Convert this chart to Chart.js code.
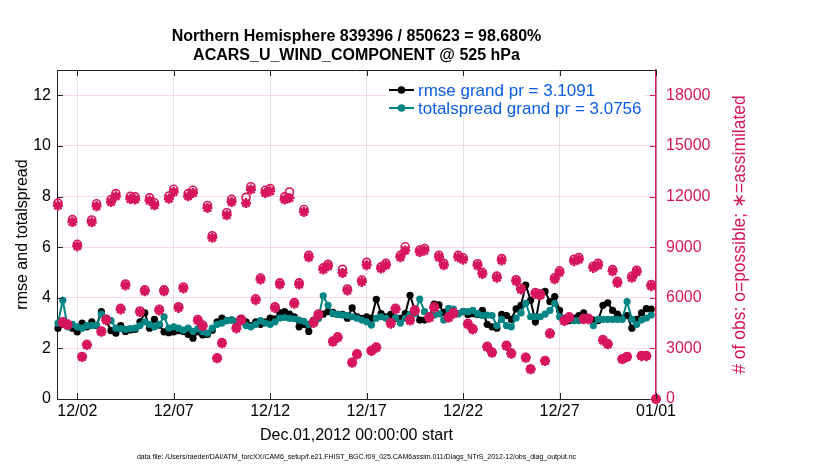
<!DOCTYPE html>
<html>
<head>
<meta charset="utf-8">
<script src="https://cdn.jsdelivr.net/npm/chart.js@4.4.1/dist/chart.umd.min.js"></script>
<style>
html,body{margin:0;padding:0;background:#fff;}
#wrap{width:830px;height:470px;position:relative;}
</style>
</head>
<body>
<div id="wrap"><canvas id="c" width="830" height="470"></canvas></div>
<script>
// ---------- data ----------
const titleLines = ['Northern Hemisphere 839396 / 850623 = 98.680%', 'ACARS_U_WIND_COMPONENT @ 525 hPa'];
const xTitle = 'Dec.01,2012 00:00:00 start';
const yLeftTitle = 'rmse and totalspread';
const yRightTitle = '# of obs: o=possible; \u2217=assimilated';
const footer = 'data file: /Users/raeder/DAI/ATM_forcXX/CAM6_setup/f.e21.FHIST_BGC.f09_025.CAM6assim.011/Diags_NTrS_2012-12/obs_diag_output.nc';
const legendLabels = ['rmse grand pr = 3.1091', 'totalspread grand pr = 3.0756'];

// x ticks: day of December (32 = Jan 1)
const xTickDays = [2, 7, 12, 17, 22, 27, 32];
const xTickLabels = ['12/02', '12/07', '12/12', '12/17', '12/22', '12/27', '01/01'];
const leftTicks = [0, 2, 4, 6, 8, 10, 12];
const rightTicks = [0, 3000, 6000, 9000, 12000, 15000, 18000];

// 6-hourly bins starting Dec 1 00Z
const firstDay = 1.0;
const stepDays = 0.25;

const rmse = [
 2.80,2.95,2.90,2.80, 2.65,3.00,2.85,3.05, 2.90,3.45,3.10,2.70, 2.60,2.90,2.67,2.73,
 2.75,3.05,3.40,2.80, 3.15,2.92,2.65,2.62, 2.65,2.70,2.67,2.55, 2.40,2.65,2.53,2.55,
 2.72,3.05,3.20,3.10, 3.12,3.05,3.19,3.05, 2.90,3.05,2.95,3.05, 3.20,3.17,3.40,3.45,
 3.35,3.25,2.85,2.95, 2.67,3.12,3.20,3.35, 3.45,3.42,3.34,3.34, 3.19,3.60,3.25,3.19,
 3.25,3.19,3.94,3.37, 3.25,3.34,3.19,3.19, 3.37,4.10,3.51,3.12, 3.12,3.25,3.75,3.72,
 3.42,3.32,3.45,3.37, 3.45,3.34,3.37,3.34, 3.50,2.95,2.85,2.80, 3.34,3.30,3.15,3.56,
 3.70,4.50,3.90,3.05, 4.10,4.25,3.85,4.05, 3.50,3.15,3.10,3.20, 3.30,3.40,3.20,3.12,
 3.10,3.70,3.80,3.50, 3.35,3.20,3.30,2.80, 3.15,3.40,3.57,3.55
];
const totalspread = [
 3.00,3.90,2.85,2.95, 2.85,2.80,2.90,2.90, 2.92,3.35,3.20,3.10, 2.80,2.78,2.75,2.78,
 2.80,2.90,3.05,2.95, 2.85,2.95,3.25,2.80, 2.85,2.80,2.72,2.80, 2.67,2.78,2.66,2.60,
 2.80,2.95,3.00,3.10, 3.13,3.07,3.05,2.90, 2.85,2.95,3.10,3.00, 2.95,3.05,3.20,3.22,
 3.19,3.17,3.12,3.07, 2.95,3.07,3.19,4.08, 3.70,3.37,3.34,3.32, 3.30,3.25,3.19,3.12,
 3.05,2.92,3.19,3.25, 3.19,3.07,3.22,3.00, 3.19,3.34,3.37,3.95, 3.45,3.25,3.32,3.37,
 3.12,3.58,3.55,3.37, 3.45,3.45,3.50,3.37, 3.30,3.32,3.30,2.90, 3.15,2.90,2.85,3.20,
 3.40,3.78,3.25,3.25, 3.25,3.35,3.50,3.78, 3.25,3.20,3.15,3.10, 3.10,3.15,3.15,2.90,
 3.15,3.15,3.15,3.15, 3.15,3.15,3.85,3.15, 2.95,3.12,3.20,3.32
];
const obsAssimilated = [
 11460,4510,4380,10490, 9050,2485,3195,10470, 11420,3980,4670,11670, 12010,5300,6730,11850,
 11820,5150,6390,11760, 11480,5250,6390,11870, 12270,5400,6550,12010, 12210,4650,4320,11320,
 9550,2410,3300,10890, 11670,4180,4670,11610, 12410,5860,7080,12210, 12310,5400,6790,11820,
 11910,5640,6790,11080, 8400,4510,4970,7670, 7870,3390,3630,7470, 6430,2150,2640,6940,
 7930,2840,3040,7730, 7930,4460,5310,8400, 8800,4650,5210,8710, 8800,4810,5400,8400,
 7930,4810,5050,8400, 8260,4420,4120,7910, 7410,3080,2740,7180, 8210,3140,2680,6980,
 6490,2440,1760,6230, 6150,2250,3860,7100, 7500,4620,4810,8170, 8270,4720,4720,7770,
 7930,3470,3240,7570, 6880,2350,2490,7180, 7530,2540,2540,6690, 0
];
const obsPossible = [
 11610,4570,4440,10630, 9170,2520,3240,10610, 11570,4030,4730,11820, 12170,5370,6820,12010,
 11980,5220,6470,11920, 11630,5320,6470,12030, 12430,5470,6640,12170, 12370,4710,4380,11470,
 9680,2440,3340,11040, 11830,4240,4730,11950, 12580,5940,7170,12370, 12470,5470,6880,11980,
 12270,5710,6880,11230, 8510,4570,5040,7770, 7980,3430,3680,7680, 6520,2180,2680,7050,
 8100,2880,3080,7830, 8040,4520,5380,8510, 9020,4710,5280,8830, 8920,4870,5470,8510,
 8040,4870,5120,8510, 8370,4480,4170,8020, 7510,3120,2780,7280, 8320,3180,2720,7070,
 6580,2470,1780,6310, 6230,2280,3910,7190, 7600,4680,4870,8280, 8380,4780,4780,7870,
 8040,3520,3280,7670, 6970,2380,2520,7280, 7630,2570,2570,6780, 0
];

// ---------- styling ----------
const FONT = '"Liberation Sans", Arial, Helvetica, sans-serif';
const MAGENTA = '#d6155c';
const TEAL = '#008585';
const LEGEND_BLUE = '#0a5ce6';

const timeOf = i => firstDay + i * stepDays;
const toXY = arr => arr.map((v, i) => ({x: timeOf(i), y: v}));

const deco = {
  id: 'deco',
  afterDraw(chart) {
    const ctx = chart.ctx;
    const a = chart.chartArea;
    const sx = chart.scales.x, sy = chart.scales.y, sy2 = chart.scales.y2;
    ctx.save();
    // top box line
    ctx.strokeStyle = '#222'; ctx.lineWidth = 1;
    ctx.beginPath(); ctx.moveTo(a.left, a.top + 0.5); ctx.lineTo(a.right, a.top + 0.5); ctx.stroke();
    // inward ticks
    ctx.beginPath();
    sx.ticks.forEach(t => { const p = Math.round(sx.getPixelForValue(t.value)) + 0.5; ctx.moveTo(p, a.bottom); ctx.lineTo(p, a.bottom - 6); ctx.moveTo(p, a.top); ctx.lineTo(p, a.top + 6); });
    sy.ticks.forEach(t => { const p = Math.round(sy.getPixelForValue(t.value)) + 0.5; ctx.moveTo(a.left, p); ctx.lineTo(a.left + 6, p); });
    ctx.stroke();
    ctx.strokeStyle = MAGENTA;
    ctx.beginPath();
    sy2.ticks.forEach(t => { const p = Math.round(sy2.getPixelForValue(t.value)) + 0.5; ctx.moveTo(a.right, p); ctx.lineTo(a.right - 6, p); });
    ctx.stroke();

    // title
    const cx = (a.left + a.right) / 2;
    ctx.fillStyle = '#000';
    ctx.textAlign = 'center'; ctx.textBaseline = 'middle';
    ctx.font = 'bold 16px ' + FONT;
    ctx.fillText(titleLines[0], cx, 37);
    ctx.fillText(titleLines[1], cx, 56);
    // x title
    ctx.font = '16px ' + FONT;
    ctx.fillText(xTitle, cx, 436);
    // footer
    ctx.font = '7px ' + FONT;
    ctx.fillText(footer, cx, 457);
    // left y title
    const cy = (a.top + a.bottom) / 2;
    ctx.font = '16px ' + FONT;
    ctx.save(); ctx.translate(23, cy); ctx.rotate(-Math.PI / 2); ctx.fillText(yLeftTitle, 0, 0); ctx.restore();
    // right y title
    ctx.fillStyle = MAGENTA;
    ctx.font = '17.5px ' + FONT;
    ctx.save(); ctx.translate(740, cy); ctx.rotate(-Math.PI / 2); ctx.fillText(yRightTitle, 0, 0); ctx.restore();

    // legend
    ctx.fillStyle = '#fff';
    ctx.fillRect(386, 79, 258, 38);
    const rows = [{c: '#000', y: 90}, {c: TEAL, y: 108}];
    rows.forEach((r, i) => {
      ctx.strokeStyle = r.c; ctx.lineWidth = 2;
      ctx.beginPath(); ctx.moveTo(389, r.y); ctx.lineTo(414, r.y); ctx.stroke();
      ctx.fillStyle = r.c;
      ctx.beginPath(); ctx.arc(401.5, r.y, 3.8, 0, Math.PI * 2); ctx.fill();
      ctx.fillStyle = LEGEND_BLUE;
      ctx.font = '17px ' + FONT;
      ctx.textAlign = 'left';
      ctx.fillText(legendLabels[i], 418, r.y + 1);
    });
    ctx.restore();
  }
};

const chart = new Chart(document.getElementById('c'), {
  type: 'line',
  data: {
    datasets: [
      {label: 'obs assimilated', data: toXY(obsAssimilated), yAxisID: 'y2', showLine: false,
       pointStyle: 'star', pointRadius: 5, pointBorderWidth: 2.6, borderColor: MAGENTA, backgroundColor: MAGENTA,
       order: 0, clip: false},
      {label: 'obs possible', data: toXY(obsPossible), yAxisID: 'y2', showLine: false,
       pointStyle: 'circle', pointRadius: 4, pointBorderWidth: 1.6, borderColor: MAGENTA, backgroundColor: 'rgba(0,0,0,0)',
       order: 1, clip: false},
      {label: legendLabels[1], data: toXY(totalspread), yAxisID: 'y', borderColor: TEAL, backgroundColor: TEAL,
       borderWidth: 2, pointRadius: 3.6, pointBorderWidth: 0, pointBackgroundColor: TEAL, tension: 0, order: 2, clip: false},
      {label: legendLabels[0], data: toXY(rmse), yAxisID: 'y', borderColor: '#000', backgroundColor: '#000',
       borderWidth: 2, pointRadius: 3.6, pointBorderWidth: 0, pointBackgroundColor: '#000', tension: 0, order: 3, clip: false}
    ]
  },
  options: {
    responsive: false,
    animation: false,
    devicePixelRatio: 1,
    layout: {padding: {top: 70, left: 0, right: 0, bottom: 0}},
    plugins: {legend: {display: false}, tooltip: {enabled: false}, title: {display: false}},
    scales: {
      x: {
        type: 'linear', min: 0.95, max: 32,
        afterBuildTicks: s => { s.ticks = xTickDays.map(v => ({value: v})); },
        afterFit: s => { s.height = 71; },
        ticks: {
          callback: (v) => { const i = xTickDays.indexOf(v); return i >= 0 ? xTickLabels[i] : ''; },
          font: {family: FONT, size: 16}, color: '#000', padding: 3, maxRotation: 0, autoSkip: false
        },
        grid: {color: 'rgba(0,0,0,0.12)', drawTicks: false, lineWidth: 1},
        border: {display: true, color: '#222', width: 1}
      },
      y: {
        type: 'linear', position: 'left', min: 0, max: 13,
        afterBuildTicks: s => { s.ticks = leftTicks.map(v => ({value: v})); },
        afterFit: s => { s.width = 57; },
        ticks: {font: {family: FONT, size: 16}, color: '#000', padding: 6},
        grid: {display: false, drawTicks: false},
        border: {display: true, color: '#222', width: 1}
      },
      y2: {
        type: 'linear', position: 'right', min: 0, max: 19500,
        afterBuildTicks: s => { s.ticks = rightTicks.map(v => ({value: v})); },
        afterFit: s => { s.width = 174; },
        ticks: {font: {family: FONT, size: 16}, color: MAGENTA, padding: 10, callback: v => String(v)},
        grid: {color: 'rgba(214,21,92,0.16)', drawTicks: false, lineWidth: 1},
        border: {display: true, color: MAGENTA, width: 1.5}
      }
    }
  },
  plugins: [deco]
});
</script>
</body>
</html>
